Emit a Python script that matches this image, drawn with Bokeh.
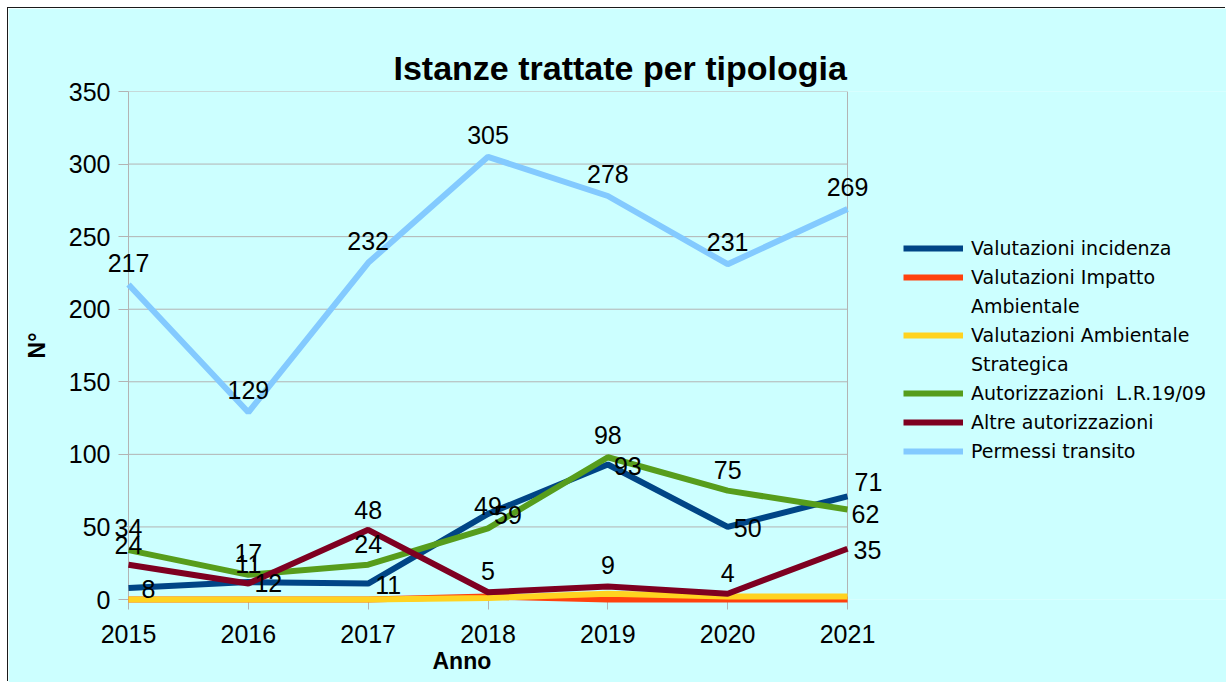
from bokeh.plotting import figure
from bokeh.models import (ColumnDataSource, Legend, LegendItem, FixedTicker, Range1d, Title)
from bokeh.core.properties import value
from bokeh.embed import file_html
from bokeh.resources import INLINE

# ---- data ----
years = [2015, 2016, 2017, 2018, 2019, 2020, 2021]
valutazioni_incidenza = [8, 12, 11, 59, 93, 50, 71]
valutazioni_impatto_ambientale = [0, 0, 0, 2, 0, 0, 0]
valutazioni_ambientale_strategica = [0, 0, 0, 1, 4, 2, 2]
autorizzazioni_lr = [34, 17, 24, 49, 98, 75, 62]
altre_autorizzazioni = [24, 11, 48, 5, 9, 4, 35]
permessi_transito = [217, 129, 232, 305, 278, 231, 269]
y_ticks = [0, 50, 100, 150, 200, 250, 300, 350]

# label placement (pixels: right, up) -- style only
off_incidenza_x = [20, 20, 20, 20, 20, 20, 21]
off_incidenza_y = [-1, -1, -1, -1, -1, -1, 14]
off_above_x = [0, 0, 0, 0, 0, 0, 0]
off_above_y = [22, 22, 22, 22, 22, 22, 22]
off_lr_x = [0, 0, 0, 0, 0, 0, 18]
off_lr_y = [22, 22, 21, 22, 22, 21, -4]
off_altre_x = [0, 0, 0, 0, 0, 0, 20]
off_altre_y = [20, 20, 20, 21, 21, 21, -1]

BG = "#ccffff"
GRID = "#b3b3b3"
FONT = "Liberation Sans"

W, H = 1218, 674
FL, FT, FB = 120, 83, 591     # frame edges in figure pixels
PLOT_R = 839                  # right edge of the drawn plot box (pixels)
# the frame also spans the legend area to the right of the plot box
x_end = years[0] + (years[-1] - years[0]) * (W - FL) / (PLOT_R - FL)

p = figure(width=W, height=H, output_backend="svg", toolbar_location=None,
           x_range=Range1d(years[0], x_end), y_range=Range1d(y_ticks[0], y_ticks[-1]),
           min_border_left=FL, min_border_top=FT, min_border_right=0,
           min_border_bottom=H - FB)
p.styles = {"margin-left": "8px", "margin-top": "8px",
            "box-shadow": "-1px -1px 0 0 #1a1a1a"}
p.background_fill_color = BG
p.border_fill_color = BG
p.outline_line_color = None

p.title = Title(text="Istanze trattate per tipologia", align="left", offset=265,
                text_font=FONT, text_font_size="34px", text_font_style="bold",
                text_color="#000000", standoff=10)

# axes
p.xaxis.ticker = FixedTicker(ticks=years)
p.yaxis.ticker = FixedTicker(ticks=y_ticks)
for ax in (p.xaxis, p.yaxis):
    ax.axis_line_color = GRID
    ax.major_tick_line_color = GRID
    ax.major_tick_out = 10
    ax.major_tick_in = 0
    ax.minor_tick_line_color = None
    ax.major_label_text_font = FONT
    ax.major_label_text_font_size = "25px"
    ax.major_label_text_color = "#000000"
    ax.axis_label_text_font = FONT
    ax.axis_label_text_font_style = "bold"
    ax.axis_label_text_font_size = "23px"
    ax.axis_label_text_color = "#000000"
p.xaxis.axis_line_color = None
p.xaxis.major_label_standoff = 15
p.yaxis.major_label_standoff = 8
p.yaxis.axis_label = "N°"
p.yaxis.axis_label_standoff = 16
p.xgrid.grid_line_color = None
p.ygrid.grid_line_color = None

# x-axis title placed under the plot box
p.add_layout(Title(text="Anno", align="left", offset=304, text_font=FONT,
                   text_font_size="23px", text_font_style="bold",
                   text_color="#000000", standoff=0), "below")

# plot box: horizontal gridlines, bottom axis line and right edge
p.segment(x0=[years[0]] * len(y_ticks), x1=[years[-1]] * len(y_ticks),
          y0=y_ticks, y1=y_ticks, line_color=GRID, line_width=1)
p.segment(x0=[years[-1]], x1=[years[-1]], y0=[y_ticks[0]], y1=[y_ticks[-1]],
          line_color=GRID, line_width=1)

series = [
    ("Valutazioni incidenza", valutazioni_incidenza, "#004586", (off_incidenza_x, off_incidenza_y)),
    ("Valutazioni Impatto Ambientale", valutazioni_impatto_ambientale, "#ff420e", None),
    ("Valutazioni Ambientale Strategica", valutazioni_ambientale_strategica, "#ffd320", None),
    ("Autorizzazioni  L.R.19/09", autorizzazioni_lr, "#579d1c", (off_lr_x, off_lr_y)),
    ("Altre autorizzazioni", altre_autorizzazioni, "#7e0021", (off_altre_x, off_altre_y)),
    ("Permessi transito", permessi_transito, "#83caff", (off_above_x, off_above_y)),
]

renderers = []
label_sources = []
for name, vals, color, offs in series:
    src = ColumnDataSource(dict(x=years, y=vals, t=[str(v) for v in vals]))
    r = p.line("x", "y", source=src, line_color=color, line_width=6, level="overlay")
    renderers.append(r)
    if offs is not None:
        src.data["dx"] = offs[0]
        src.data["dy"] = [-v for v in offs[1]]
        label_sources.append(src)
for src in label_sources:
    p.text(x="x", y="y", text="t", source=src, x_offset="dx", y_offset="dy",
           text_align="center", text_baseline="middle",
           text_font=value(FONT), text_font_size="25px", text_color="#000000",
           level="overlay")

# invisible renderer for continuation lines of legend labels
blank = p.line([], [], line_alpha=0)

items = [
    LegendItem(label="Valutazioni incidenza", renderers=[renderers[0]]),
    LegendItem(label="Valutazioni Impatto", renderers=[renderers[1]]),
    LegendItem(label="Ambientale", renderers=[blank]),
    LegendItem(label="Valutazioni Ambientale", renderers=[renderers[2]]),
    LegendItem(label="Strategica", renderers=[blank]),
    LegendItem(label="Autorizzazioni  L.R.19/09", renderers=[renderers[3]]),
    LegendItem(label="Altre autorizzazioni", renderers=[renderers[4]]),
    LegendItem(label="Permessi transito", renderers=[renderers[5]]),
]
legend = Legend(items=items, location=(775, 137), padding=0, margin=0,
                glyph_width=60, glyph_height=20, label_height=20, spacing=7,
                label_standoff=8, background_fill_alpha=0, border_line_color=None,
                label_text_font="DejaVu Sans", label_text_font_size="19px",
                label_text_color="#000000", label_text_baseline="middle")
p.add_layout(legend, "center")

open("out.html", "w").write(file_html(p, INLINE))
